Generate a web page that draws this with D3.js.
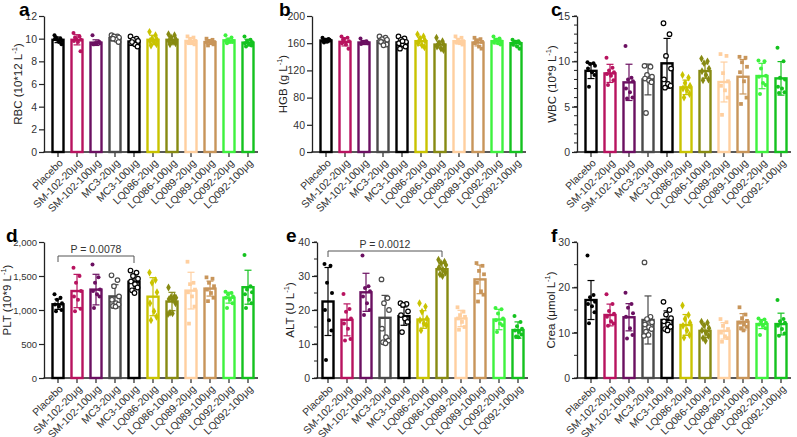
<!DOCTYPE html>
<html>
<head>
<meta charset="utf-8">
<script src="https://cdn.jsdelivr.net/npm/d3@7"></script>
<style>
  body { margin: 0; background: #fff; }
  text { font-family: "Liberation Sans", Arial, sans-serif; }
</style>
</head>
<body>
<script>
// groups and colours
const groups = ["Placebo", "SM-102-20μg", "SM-102-100μg", "MC3-20μg", "MC3-100μg",
  "LQ086-20μg", "LQ086-100μg", "LQ089-20μg", "LQ089-100μg", "LQ092-20μg", "LQ092-100μg"];
const colors = ["#000000", "#b8135f", "#6b1061", "#4a4a4a", "#000000",
  "#c9c300", "#878a12", "#ffcf9f", "#c8955a", "#3ef23e", "#14c21f"];
const shapes = ["circle", "circle", "circle", "open", "open",
  "diamond", "diamond", "square", "square", "circle", "circle"];

// a: RBC
const rbcMean = [9.9, 9.9, 9.65, 10.05, 9.75, 9.9, 9.9, 9.8, 9.7, 9.85, 9.65];
const rbcSd = [0.25, 0.45, 0.25, 0.2, 0.35, 0.4, 0.3, 0.3, 0.2, 0.2, 0.3];
const rbcPts = [
  [10.3, 10.0, 9.9, 9.8, 10.0, 9.7, 9.5, 10.1],
  [10.5, 10.2, 10.0, 9.9, 9.8, 9.7, 8.9, 10.1],
  [10.3, 9.7, 9.6, 9.6, 9.5, 9.6, 9.7, 9.5],
  [10.3, 10.2, 10.2, 10.1, 10.0, 9.9, 9.7, 10.0],
  [10.2, 10.0, 9.9, 9.8, 9.6, 9.5, 9.3, 9.7],
  [10.6, 10.3, 10.0, 9.9, 9.8, 9.7, 9.5, 9.4],
  [10.4, 10.3, 10.1, 9.9, 9.8, 9.7, 9.6, 9.5],
  [10.2, 10.1, 9.9, 9.8, 9.7, 9.6, 9.5, 9.6],
  [10.0, 9.9, 9.8, 9.7, 9.7, 9.6, 9.5, 9.4],
  [10.3, 10.1, 9.9, 9.8, 9.8, 9.7, 9.7, 9.6],
  [10.2, 9.9, 9.8, 9.7, 9.6, 9.5, 9.4, 9.3]
];

// b: HGB
const hgbMean = [164, 162, 161, 163, 161, 163, 158, 163, 161, 163, 160];
const hgbSd = [3, 6, 3, 4, 5, 6, 5, 4, 5, 4, 4];
const hgbPts = [
  [168, 166, 165, 164, 163, 162, 165, 161],
  [170, 168, 166, 163, 160, 158, 152, 165],
  [167, 163, 161, 160, 159, 162, 160, 161],
  [170, 168, 166, 165, 163, 160, 158, 162, 157],
  [170, 167, 165, 162, 160, 158, 155, 152, 163],
  [173, 170, 167, 164, 160, 157, 154, 163],
  [168, 163, 160, 157, 155, 152, 150, 158],
  [170, 168, 165, 163, 162, 160, 158, 161],
  [168, 166, 164, 162, 160, 155, 152, 163],
  [170, 167, 165, 163, 161, 160, 158, 164],
  [165, 163, 162, 160, 158, 155, 152, 161]
];

// c: WBC
const wbcMean = [8.95, 8.67, 7.68, 8.0, 9.78, 7.13, 8.93, 7.72, 8.3, 8.38, 8.12];
const wbcSd = [0.85, 1.0, 2.0, 1.7, 2.75, 0.8, 0.8, 2.2, 1.9, 1.4, 1.85];
const wbcPts = [
  [9.9, 9.8, 9.7, 9.5, 9.2, 8.8, 8.5, 7.2],
  [10.4, 9.3, 9.0, 8.8, 8.6, 8.4, 7.9, 7.4],
  [11.7, 8.2, 8.0, 7.8, 7.0, 6.6, 6.0, 5.9],
  [9.5, 9.4, 8.5, 8.3, 8.1, 7.9, 7.7, 4.3],
  [14.2, 13.0, 10.6, 9.2, 8.0, 7.5, 7.3, 7.1],
  [8.5, 8.2, 7.6, 7.3, 7.0, 6.8, 6.4, 6.0],
  [10.3, 10.0, 9.8, 9.2, 8.9, 8.5, 8.0, 7.9],
  [10.8, 10.6, 8.7, 7.8, 7.3, 6.8, 6.0, 4.1],
  [10.5, 10.4, 9.9, 9.4, 8.8, 7.8, 6.0, 5.3],
  [10.1, 10.0, 9.2, 8.4, 8.3, 7.6, 7.4, 6.4],
  [11.5, 10.0, 8.2, 8.0, 7.2, 7.0, 6.6, 6.5]
];

// d: PLT
const pltMean = [1084, 1279, 1300, 1200, 1416, 1196, 1125, 1285, 1315, 1181, 1335];
const pltSd = [75, 245, 225, 172, 100, 280, 135, 270, 110, 80, 250];
const pltPts = [
  [1230, 1180, 1150, 1100, 1080, 1050, 1000, 980],
  [1620, 1500, 1400, 1280, 1200, 1150, 1020, 980],
  [1670, 1480, 1400, 1300, 1280, 1230, 1200, 1030],
  [1510, 1440, 1350, 1200, 1150, 1100, 1080, 1060, 1050],
  [1580, 1550, 1500, 1460, 1420, 1380, 1330, 1290, 1250],
  [1550, 1440, 1400, 1260, 1100, 980, 900, 850],
  [1330, 1200, 1190, 1180, 1160, 1150, 1100, 960, 950, 940],
  [1710, 1400, 1380, 1300, 1260, 1200, 1050, 800],
  [1480, 1460, 1400, 1350, 1300, 1250, 1180, 1130],
  [1270, 1250, 1230, 1200, 1180, 1150, 1100, 1030],
  [1810, 1350, 1300, 1260, 1230, 1150, 1100, 1030]
];

// e: ALT
const altMean = [22.5, 17.1, 25.2, 17.7, 18.2, 17.2, 32.0, 17.5, 29.0, 17.2, 14.1];
const altSd = [10.0, 4.7, 5.6, 6.6, 2.7, 2.6, 1.7, 2.4, 4.2, 3.0, 2.4];
const altPts = [
  [33.5, 33.0, 28, 25, 20, 17, 14, 5.3],
  [24.7, 20.3, 19.5, 17.5, 16.0, 14.5, 11.5, 11.0],
  [36, 27, 26.5, 25.5, 24, 22, 20, 18.5],
  [29, 23.5, 22, 20, 14.5, 12, 11, 10.5, 10.2],
  [22, 21.8, 21.5, 19.6, 18.5, 17.5, 16.5, 13.5],
  [22, 21, 19.5, 17.5, 17, 16, 15.5, 14],
  [34.8, 34.2, 33.8, 33.2, 32.5, 31.8, 31.0, 30.5, 30.0],
  [20.8, 19.5, 18.5, 18.0, 17.5, 16.5, 15.0, 14.2],
  [33.8, 33.0, 31.5, 30.5, 28, 25.5, 24.5, 22.5],
  [20.6, 20.2, 19, 17.5, 17.0, 16.0, 15.5, 13.5],
  [18.2, 16.5, 15.2, 14.5, 14.0, 13.5, 12.8, 12.2, 12.0]
];

// f: Crea
const creaMean = [17.2, 13.9, 13.4, 12.8, 12.8, 11.7, 10.4, 10.4, 12.4, 11.9, 11.9];
const creaSd = [4.3, 2.4, 3.0, 5.3, 2.0, 2.3, 1.5, 1.8, 1.8, 1.0, 2.4];
const creaPts = [
  [27, 18.3, 17.8, 16.8, 16.3, 15.8, 14.5, 12.1],
  [18.5, 16.3, 14.8, 14.2, 13.5, 12.5, 12.0, 11.5],
  [18.8, 16.3, 15.5, 14.3, 13.5, 11, 9.5, 8.7],
  [25.5, 13.5, 13, 12.3, 11.8, 11.2, 10.8, 10.2, 9.5, 9.3],
  [16.8, 15.0, 14.0, 13.2, 12.5, 11.8, 11.3, 10.8, 10.5],
  [16, 13.9, 13, 12.2, 11.5, 10.5, 9.5, 8.9],
  [12.4, 12.2, 11.6, 11, 10.5, 10, 9.3, 8.8, 8.2],
  [13, 12.3, 11.5, 10.8, 10, 9.2, 8.8, 8.0],
  [15.6, 14, 13.2, 12.6, 12.2, 11.8, 11.3, 11.0, 10.5],
  [13.1, 12.9, 12.5, 12.2, 11.8, 11.5, 11.0, 9.5],
  [17.2, 13, 12.5, 12.2, 11.5, 10.8, 9.8, 9.3]
];

const pLabels = ["P = 0.0078", "P = 0.0012"];

const W = 797, H = 437;
const svg = d3.select("body").append("svg")
  .attr("width", W).attr("height", H);

const panels = [
  {letter: "a", title: "RBC (10*12 L", sup: "-1", mean: rbcMean, sd: rbcSd, pts: rbcPts,
   max: 12, ticks: [0, 2, 4, 6, 8, 10, 12], minor: null, tickFont: 10.5,
   x0: 44, first: 58, top: 16, bottom: 152, titleX: 18, titleY: 84, letterX: 19},
  {letter: "b", title: "HGB (g L", sup: "-1", mean: hgbMean, sd: hgbSd, pts: hgbPts,
   max: 200, ticks: [0, 40, 80, 120, 160, 200], minor: null, tickFont: 10.5,
   x0: 312, first: 326, top: 16, bottom: 152, titleX: 283, titleY: 84, letterX: 279},
  {letter: "c", title: "WBC (10*9 L", sup: "-1", mean: wbcMean, sd: wbcSd, pts: wbcPts,
   max: 15, ticks: [0, 5, 10, 15], minor: d3.range(0, 16, 1), tickFont: 10.5,
   x0: 577, first: 591, top: 16, bottom: 152, titleX: 552, titleY: 84, letterX: 551},
  {letter: "d", title: "PLT (10*9 L", sup: "-1", mean: pltMean, sd: pltSd, pts: pltPts,
   max: 2000, ticks: [0, 500, 1000, 1500, 2000], minor: null, tickFont: 9.5,
   x0: 44, first: 58, top: 242, bottom: 378, titleX: 7, titleY: 300, letterX: 6,
   bracket: {from: 0, to: 4, y: 256, l1: 262, l2: 263, label: pLabels[0]}},
  {letter: "e", title: "ALT (U L", sup: "-1", mean: altMean, sd: altSd, pts: altPts,
   max: 40, ticks: [0, 10, 20, 30, 40], minor: d3.range(0, 41, 5), tickFont: 10.5,
   x0: 317, first: 328, top: 242, bottom: 378, titleX: 290, titleY: 310, letterX: 286,
   bracket: {from: 0, to: 6, y: 251, l1: 257, l2: 257, label: pLabels[1]}},
  {letter: "f", title: "Crea (μmol L", sup: "-1", mean: creaMean, sd: creaSd, pts: creaPts,
   max: 30, ticks: [0, 10, 20, 30], minor: d3.range(0, 31, 5), tickFont: 10.5,
   x0: 577, first: 591, top: 242, bottom: 378, titleX: 551, titleY: 310, letterX: 551}
];

const jitter = [-3.5, 2.5, -1, 4, -3, 1, 3.5, -2, 0.5, -4];
const axisColor = "#222";

panels.forEach(p => {
  const g = svg.append("g");
  const x = d3.scalePoint().domain(d3.range(groups.length))
    .range([p.first, p.first + 190]);
  const y = d3.scaleLinear().domain([0, p.max]).range([p.bottom, p.top]);

  // minor ticks
  if (p.minor) {
    g.selectAll(".minor").data(p.minor).enter().append("line")
      .attr("x1", p.x0 - 3).attr("x2", p.x0)
      .attr("y1", d => y(d)).attr("y2", d => y(d))
      .attr("stroke", axisColor).attr("stroke-width", 1);
  }

  // y axis
  const ya = g.append("g").attr("transform", `translate(${p.x0},0)`)
    .call(d3.axisLeft(y).tickValues(p.ticks).tickSize(5).tickPadding(2).tickSizeOuter(0));
  ya.select(".domain").attr("stroke", axisColor).attr("stroke-width", 1.3);
  ya.selectAll(".tick line").attr("stroke", axisColor).attr("stroke-width", 1.2);
  ya.selectAll(".tick text").attr("font-size", p.tickFont).attr("fill", "#333")
    .attr("font-family", "Liberation Sans, Arial, sans-serif");

  // x axis
  const xEnd = p.first + 190 + 10;
  g.append("line").attr("x1", p.x0 - 0.6).attr("x2", xEnd)
    .attr("y1", p.bottom).attr("y2", p.bottom)
    .attr("stroke", axisColor).attr("stroke-width", 1.3);
  groups.forEach((name, i) => {
    g.append("line").attr("x1", x(i)).attr("x2", x(i))
      .attr("y1", p.bottom).attr("y2", p.bottom + 5)
      .attr("stroke", axisColor).attr("stroke-width", 1.2);
    g.append("text")
      .attr("transform", `translate(${x(i) + 3},${p.bottom + 9}) rotate(-45)`)
      .attr("text-anchor", "end").attr("font-size", 10.5).attr("fill", "#333")
      .attr("dy", "0.35em")
      .text(name);
  });

  // y title
  const t = g.append("text")
    .attr("transform", `translate(${p.titleX},${p.titleY}) rotate(-90)`)
    .attr("text-anchor", "middle").attr("dy", "0.35em")
    .attr("font-size", 11.5).attr("fill", "#222");
  t.append("tspan").text(p.title);
  t.append("tspan").attr("font-size", 7.5).attr("dy", -5).text(p.sup);
  t.append("tspan").attr("dy", 5).text(")");

  // panel letter
  g.append("text").attr("x", p.letterX).attr("y", p.top)
    .attr("font-size", 19).attr("font-weight", "bold").attr("fill", "#000")
    .text(p.letter);

  const bw = 11;
  groups.forEach((name, i) => {
    const c = colors[i];
    const cx = x(i);
    // bar
    g.append("rect").attr("x", cx - bw / 2).attr("y", y(p.mean[i]))
      .attr("width", bw).attr("height", y(0) - y(p.mean[i]))
      .attr("fill", "none").attr("stroke", c).attr("stroke-width", 2.4);
    // error bar
    const hi = y(p.mean[i] + p.sd[i]), lo = y(p.mean[i] - p.sd[i]);
    g.append("line").attr("x1", cx).attr("x2", cx).attr("y1", hi).attr("y2", lo)
      .attr("stroke", c).attr("stroke-width", 1.2);
    [hi, lo].forEach(yy => g.append("line")
      .attr("x1", cx - 3.5).attr("x2", cx + 3.5).attr("y1", yy).attr("y2", yy)
      .attr("stroke", c).attr("stroke-width", 1.2));
    // points
    p.pts[i].forEach((v, j) => {
      const px = cx + jitter[j % jitter.length];
      const py = y(v);
      const s = shapes[i];
      if (s === "open") {
        g.append("circle").attr("cx", px).attr("cy", py).attr("r", 2.3)
          .attr("fill", "#fff").attr("stroke", c).attr("stroke-width", 1.2);
      } else if (s === "diamond") {
        g.append("path").attr("transform", `translate(${px},${py})`)
          .attr("d", d3.symbol(d3.symbolDiamond, 18)()).attr("fill", c);
      } else if (s === "square") {
        g.append("path").attr("transform", `translate(${px},${py})`)
          .attr("d", d3.symbol(d3.symbolSquare, 14)()).attr("fill", c);
      } else {
        g.append("circle").attr("cx", px).attr("cy", py).attr("r", 2)
          .attr("fill", c);
      }
    });
  });

  // significance bracket
  if (p.bracket) {
    const b = p.bracket;
    const xa = x(b.from), xb = x(b.to);
    g.append("path")
      .attr("d", `M${xa},${b.l1}V${b.y}H${xb}V${b.l2}`)
      .attr("fill", "none").attr("stroke", "#555").attr("stroke-width", 1);
    g.append("text").attr("x", (xa + xb) / 2).attr("y", b.y - 3)
      .attr("text-anchor", "middle").attr("font-size", 10.5).attr("fill", "#333")
      .text(b.label);
  }
});
</script>
</body>
</html>
